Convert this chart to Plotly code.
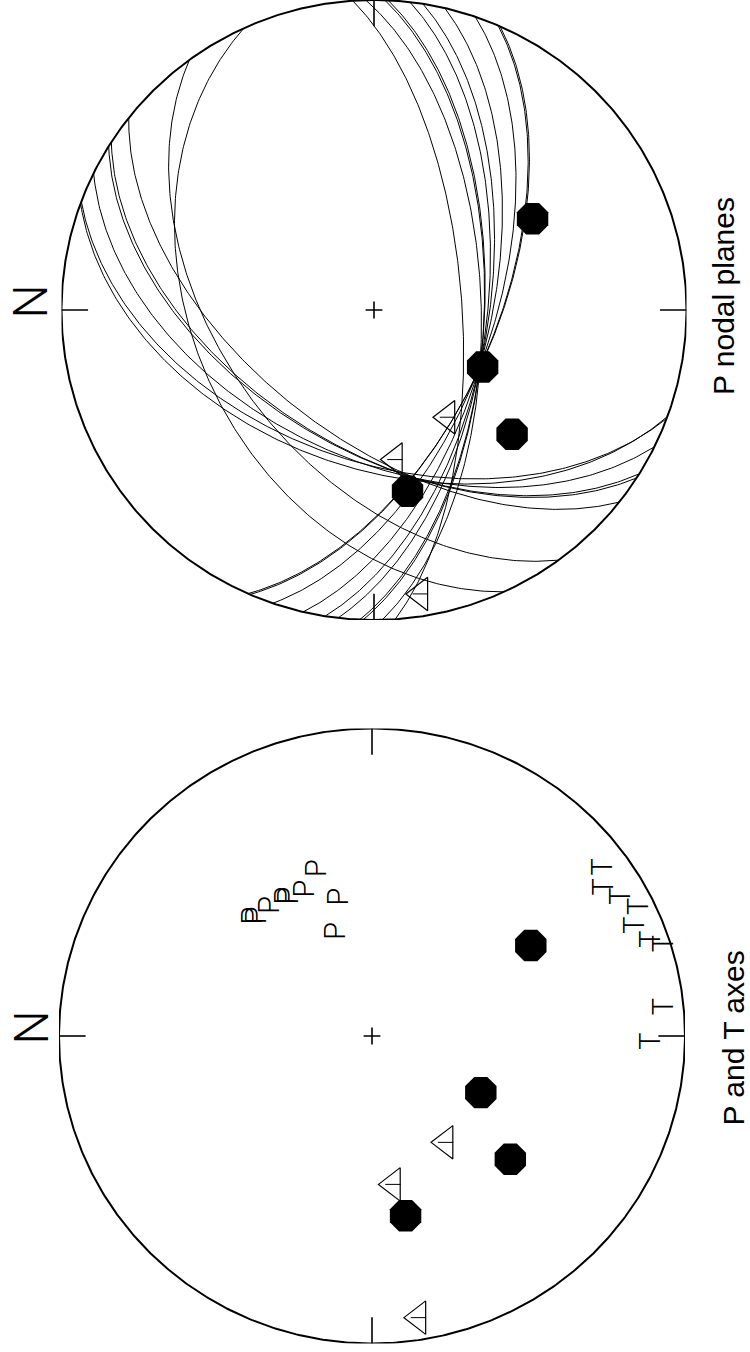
import numpy as np
import plotly.graph_objects as go

# ---------------- data ----------------
# nodal planes: strike (right-hand rule) and dip, degrees
plane_strike = [86.1, 88.5, 92.0, 92.6, 96.6, 99.0, 103.1, 108.9, 113.4, 113.8,
                200.1, 200.5, 206.2, 211.9, 212.8, 218.3, 233.8, 245.4]
plane_dip = [67.0, 61.9, 61.1, 61.0, 60.3, 59.9, 59.4, 58.8, 58.4, 58.3,
             48.0, 50.0, 51.0, 53.6, 54.0, 57.0, 49.8, 42.0]

# P and T axes: trend / plunge, degrees
p_trend = [71.9, 65.6, 76.5, 70.6, 58.6, 59.6, 52.4, 45.7, 46.6]
p_plunge = [42.0, 46.3, 51.5, 60.2, 45.6, 46.0, 45.2, 44.4, 45.1]
t_trend = [143.3, 146.7, 150.1, 153.6, 156.8, 160.4, 162.1, 174.2, 181.0]
t_plunge = [9.2, 13.1, 9.5, 6.0, 9.8, 6.4, 2.3, 7.2, 12.2]

# first-motion polarities: azimuth, take-off angle, polarity (C = compression, D = dilatation)
sta_az = [149.9, 207.9, 222.2, 259.6, 235.8, 262.1, 260.8]
sta_takeoff = [49.0, 32.3, 49.9, 49.7, 34.4, 40.3, 82.0]
sta_pol = ["C", "C", "C", "C", "D", "D", "D"]

titles = ["P nodal planes", "P and T axes"]

# ---------------- projection helpers (equal-area, lower hemisphere) ----------------
SQ2 = np.sqrt(2.0)


def proj(trend, plunge):
    t = np.radians(np.asarray(trend, float))
    p = np.radians(np.asarray(plunge, float))
    rho = SQ2 * np.sin((np.pi / 2 - p) / 2)
    n = rho * np.cos(t)
    e = rho * np.sin(t)
    # figure is turned so that North points left and East points up
    return -n, e


def great_circle(strike, dip, npts=241):
    s = np.radians(strike)
    d = np.radians(dip)
    S = np.array([np.cos(s), np.sin(s), 0.0])
    D = np.array([np.cos(d) * np.cos(s + np.pi / 2), np.cos(d) * np.sin(s + np.pi / 2), np.sin(d)])
    th = np.linspace(0, np.pi, npts)
    L = np.outer(np.cos(th), S) + np.outer(np.sin(th), D)
    tr = np.degrees(np.arctan2(L[:, 1], L[:, 0]))
    pl = np.degrees(np.arcsin(np.clip(L[:, 2], -1, 1)))
    return proj(tr, pl)


fig = go.Figure()
W, H = 750, 1352


def add_net(xa, ya):
    th = np.linspace(0, 2 * np.pi, 721)
    fig.add_trace(go.Scatter(x=np.cos(th), y=np.sin(th), mode="lines",
                             line=dict(color="black", width=2), xaxis=xa, yaxis=ya,
                             hoverinfo="skip", showlegend=False, cliponaxis=False))
    tx, ty = [], []
    for az in [0, 90, 180, 270]:
        x0, y0 = proj([az, az], [0, 0])
        tx += [x0[0], x0[0] * 0.915, None]
        ty += [y0[0], y0[0] * 0.915, None]
    fig.add_trace(go.Scatter(x=tx, y=ty, mode="lines", line=dict(color="black", width=1.6),
                             xaxis=xa, yaxis=ya, hoverinfo="skip", showlegend=False, cliponaxis=False))
    fig.add_trace(go.Scatter(x=[0], y=[0], mode="markers",
                             marker=dict(symbol="cross-thin", size=12, line=dict(color="black", width=1.6)),
                             xaxis=xa, yaxis=ya, hoverinfo="skip", showlegend=False))


def add_stations(xa, ya):
    sx, sy = proj(sta_az, 90 - np.asarray(sta_takeoff))
    c = [i for i, p in enumerate(sta_pol) if p == "C"]
    dd = [i for i, p in enumerate(sta_pol) if p == "D"]
    fig.add_trace(go.Scatter(x=sx[c], y=sy[c], mode="markers",
                             marker=dict(symbol="octagon", size=34, color="black", line=dict(width=0)),
                             xaxis=xa, yaxis=ya, showlegend=False, cliponaxis=False))
    fig.add_trace(go.Scatter(x=sx[dd], y=sy[dd], mode="markers",
                             marker=dict(symbol="triangle-left-open", size=29, color="black",
                                         line=dict(color="black", width=1.2)),
                             xaxis=xa, yaxis=ya, showlegend=False, cliponaxis=False))
    fig.add_trace(go.Scatter(x=sx[dd], y=sy[dd], mode="markers",
                             marker=dict(symbol="line-ew-open", size=11, color="black",
                                         line=dict(color="black", width=1)),
                             xaxis=xa, yaxis=ya, showlegend=False, cliponaxis=False))


# ---- top net: nodal planes ----
add_net("x", "y")
for s, d in zip(plane_strike, plane_dip):
    gx, gy = great_circle(s, d)
    fig.add_trace(go.Scatter(x=gx, y=gy, mode="lines", line=dict(color="black", width=1),
                             xaxis="x", yaxis="y", hoverinfo="skip", showlegend=False))
add_stations("x", "y")

# ---- bottom net: P and T axes ----
add_net("x2", "y2")
add_stations("x2", "y2")

annotations = []
px_, py_ = proj(p_trend, p_plunge)
tx_, ty_ = proj(t_trend, t_plunge)
letter_font = dict(family="Roboto, Liberation Sans, Arial", size=29, color="black", weight=300)
for x, y in zip(px_, py_):
    annotations.append(dict(x=x, y=y, xref="x2", yref="y2", text="P", showarrow=False,
                            xanchor="center", yanchor="middle", textangle=-90, font=letter_font))
for x, y in zip(tx_, ty_):
    annotations.append(dict(x=x, y=y, xref="x2", yref="y2", text="T", showarrow=False,
                            xanchor="center", yanchor="middle", textangle=-90, font=letter_font))

# N labels
for ny in [301, 1027]:
    annotations.append(dict(x=30.5 / W, y=1 - ny / H, xref="paper", yref="paper", text="N",
                            showarrow=False, textangle=-90, xanchor="center", yanchor="middle",
                            font=dict(family="Roboto, Liberation Sans, Arial", size=48,
                                      color="black", weight=300)))

# titles
for txt, (cx, cy) in zip(titles, [(723, 296), (732.5, 1038)]):
    annotations.append(dict(x=cx / W, y=1 - cy / H, xref="paper", yref="paper", text=txt,
                            showarrow=False, textangle=-90, xanchor="center", yanchor="middle",
                            font=dict(family="Liberation Sans, Arial", size=30, color="black")))

hidden = dict(range=[-1, 1], visible=False, fixedrange=True)
fig.update_layout(
    width=W, height=H, autosize=False,
    margin=dict(l=0, r=0, t=0, b=0, pad=0),
    paper_bgcolor="white", plot_bgcolor="rgba(0,0,0,0)",
    xaxis=dict(domain=[61.5 / W, 686.5 / W], anchor="y", **hidden),
    yaxis=dict(domain=[1 - 620 / H, 1.0], anchor="x", **hidden),
    xaxis2=dict(domain=[59 / W, 685 / W], anchor="y2", **hidden),
    yaxis2=dict(domain=[1 - 1343.5 / H, 1 - 728.5 / H], anchor="x2", **hidden),
    annotations=annotations,
    showlegend=False,
)

fig.write_html("out.html")
